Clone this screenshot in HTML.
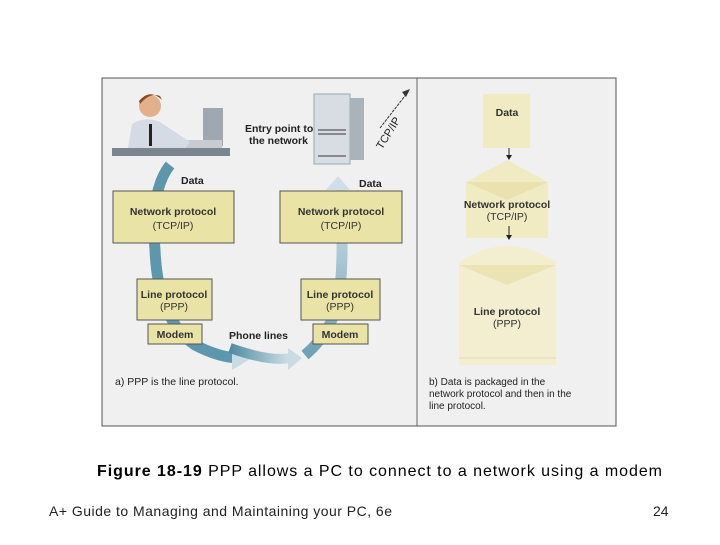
<!DOCTYPE html>
<html><head><style>
body{margin:0;background:#fff;width:720px;height:540px;overflow:hidden;font-family:"Liberation Sans",sans-serif}
</style></head><body>
<svg width="720" height="540" xmlns="http://www.w3.org/2000/svg" font-family="Liberation Sans, sans-serif">
<defs>
<linearGradient id="g2" x1="0" y1="0" x2="1" y2="0"><stop offset="0" stop-color="#4f8ba4"/><stop offset="1" stop-color="#cfdfe6"/></linearGradient>
<linearGradient id="g3" x1="0" y1="1" x2="0" y2="0"><stop offset="0" stop-color="#6ea1b5"/><stop offset="1" stop-color="#d3e2e9"/></linearGradient>
</defs>
<rect x="102" y="78" width="514" height="348" fill="#f0f0f0" stroke="#555" stroke-width="1"/>
<line x1="417" y1="78" x2="417" y2="426" stroke="#666"/>
<path d="M170,165 Q150,190 155,250 Q158,320 195,345 Q220,358 240,358" fill="none" stroke="#5d97ad" stroke-width="11"/>
<polygon points="232,346 252,358 232,370" fill="#c9dbe3"/>
<path d="M230,348 Q270,362 290,358" fill="none" stroke="url(#g2)" stroke-width="10"/>
<polygon points="288,348 302,358 288,370" fill="#c9dbe3"/>
<path d="M305,355 Q335,330 340,290 Q345,240 338,190" fill="none" stroke="url(#g3)" stroke-width="11"/>
<polygon points="326,190 338,176 350,190" fill="#cfdfe6"/>
<rect x="112" y="148" width="118" height="8" fill="#7a8590"/>
<rect x="203" y="108" width="20" height="38" fill="#9fa8b0"/>
<rect x="186" y="140" width="36" height="8" fill="#c6ccd2"/>
<path d="M128,148 L132,124 Q145,116 160,122 L190,142 L185,148 Z" fill="#d4dbe4"/>
<circle cx="150" cy="106" r="11" fill="#e2b08a"/>
<path d="M139,101 Q150,88 162,100 L160,96 Q150,92 140,104Z" fill="#8a4a22"/>
<rect x="149" y="124" width="3" height="22" fill="#222"/>
<rect x="314" y="94" width="36" height="70" fill="#d8dde3" stroke="#9aa" />
<rect x="350" y="98" width="14" height="62" fill="#aab2ba"/>
<g stroke="#556" stroke-width="1.2"><line x1="318" y1="130" x2="346" y2="130"/><line x1="318" y1="134" x2="346" y2="134"/><line x1="318" y1="156" x2="346" y2="156"/></g>
<line x1="380" y1="128" x2="408" y2="92" stroke="#333" stroke-dasharray="3,1"/>
<polygon points="410,89 402,92 406,97" fill="#333"/>
<text transform="translate(382,150) rotate(-58)" font-size="11" fill="#222">TCP/IP</text>
<g font-size="10.5" fill="#222" font-weight="bold">
<text x="245" y="132">Entry point to</text><text x="249" y="144">the network</text>
<text x="181" y="184">Data</text><text x="359" y="187">Data</text>
<text x="229" y="339">Phone lines</text>
</g>
<g fill="#e9e4a6" stroke="#555">
<rect x="113" y="191" width="121" height="52"/><rect x="280" y="191" width="122" height="52"/>
<rect x="137" y="279" width="75" height="41"/><rect x="301" y="279" width="79" height="41"/>
<rect x="148" y="324" width="54" height="20"/><rect x="313" y="324" width="55" height="20"/>
</g>
<g font-size="10.5" fill="#333" font-weight="bold" text-anchor="middle">
<text x="173" y="215">Network protocol</text><text x="173" y="229" font-weight="normal">(TCP/IP)</text>
<text x="341" y="215">Network protocol</text><text x="341" y="229" font-weight="normal">(TCP/IP)</text>
<text x="174" y="298">Line protocol</text><text x="174" y="310" font-weight="normal">(PPP)</text>
<text x="340" y="298">Line protocol</text><text x="340" y="310" font-weight="normal">(PPP)</text>
<text x="175" y="338">Modem</text><text x="340" y="338">Modem</text>
</g>
<text x="115" y="385" font-size="10.5" fill="#222">a) PPP is the line protocol.</text>
<rect x="483" y="94" width="47" height="54" fill="#f1ebc3"/>
<text x="507" y="116" font-size="10.5" font-weight="bold" fill="#333" text-anchor="middle">Data</text>
<path d="M466,182 L507,160 L548,182 L548,238 L466,238Z" fill="#f1ebc3"/>
<path d="M466,182 L507,200 L548,182" fill="#eae2ae"/>
<path d="M459,262 Q507,230 556,262 L556,365 L459,365Z" fill="#f3eed0"/>
<path d="M459,265 L507,285 L556,265Z" fill="#ebe3b3"/>
<line x1="459" y1="358" x2="556" y2="358" stroke="#e3dba8"/>
<line x1="509" y1="148" x2="509" y2="158" stroke="#222"/><polygon points="506,155 512,155 509,160" fill="#222"/>
<line x1="509" y1="226" x2="509" y2="238" stroke="#222"/><polygon points="506,235 512,235 509,240" fill="#222"/>
<g font-size="10.5" fill="#333" text-anchor="middle">
<text x="507" y="208" font-weight="bold">Network protocol</text><text x="507" y="220">(TCP/IP)</text>
<text x="507" y="315" font-weight="bold">Line protocol</text><text x="507" y="327">(PPP)</text>
</g>
<g font-size="10" fill="#222"><text x="429" y="385">b) Data is packaged in the</text><text x="429" y="397">network protocol and then in the</text><text x="429" y="409">line protocol.</text></g>
<text x="97" y="476" font-size="16" fill="#000" textLength="565" lengthAdjust="spacing"><tspan font-weight="bold">Figure 18-19</tspan> PPP allows a PC to connect to a network using a modem</text>
<text x="49" y="516" font-size="14" fill="#222" textLength="343" lengthAdjust="spacing">A+ Guide to Managing and Maintaining your PC, 6e</text>
<text x="653" y="516" font-size="14" fill="#222">24</text>
</svg>
</body></html>
